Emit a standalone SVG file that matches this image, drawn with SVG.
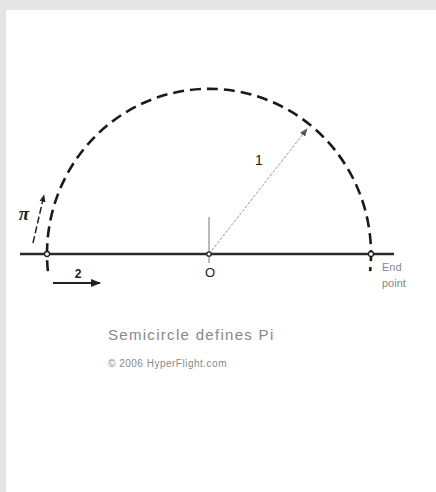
<svg xmlns="http://www.w3.org/2000/svg" width="436" height="492" viewBox="0 0 436 492">
<defs>
<style>
.base{stroke:#2a2a2a;stroke-width:2.5;fill:none}
.arc{stroke:#1a1a1a;stroke-width:2.6;fill:none;stroke-dasharray:11 6}
.pt{fill:#fff;stroke:#222;stroke-width:1.3}
.lbl{font-family:"Liberation Sans",Arial,sans-serif;fill:#222}
.cap{font-family:"Liberation Sans",Arial,sans-serif;fill:#888}
</style>
<marker id="ah" viewBox="0 0 10 10" refX="9" refY="5" markerWidth="5" markerHeight="5" orient="auto" markerUnits="strokeWidth"><path d="M0,1 L10,5 L0,9 z" fill="#222"/></marker>
<marker id="ahg" viewBox="0 0 10 10" refX="9" refY="5" markerWidth="8" markerHeight="8" orient="auto" markerUnits="strokeWidth"><path d="M0,1 L10,5 L0,9 z" fill="#555"/></marker>
</defs>
<rect x="0" y="0" width="436" height="492" fill="#e5e5e5"/>
<rect x="6" y="10" width="430" height="482" fill="#fff"/>
<g id="semicircle">
<path class="arc" d="M47.9 271.2 A162 165 0 1 1 370.1 271.2"/>
</g>
<g id="baseline">
<line class="base" x1="20" y1="254" x2="394" y2="254"/>
<line x1="209" y1="217" x2="209" y2="263" stroke="#777" stroke-width="1"/>
</g>
<g id="connectors">
<line x1="209" y1="254" x2="307" y2="129" stroke="#999" stroke-width="1" stroke-dasharray="3 1.5" marker-end="url(#ahg)"/>
<line x1="33" y1="243" x2="44" y2="195" stroke="#222" stroke-width="1.5" stroke-dasharray="7 3" marker-end="url(#ah)"/>
<line x1="53" y1="283" x2="100" y2="283" stroke="#222" stroke-width="2" marker-end="url(#ah)"/>
</g>
<g id="points">
<circle class="pt" cx="47" cy="254" r="2.5"/>
<circle class="pt" cx="209" cy="254" r="2.2"/>
<circle class="pt" cx="371" cy="254" r="2.5"/>
</g>
<g id="labels">
<text class="lbl" x="259" y="165" font-size="14" text-anchor="middle">1</text>
<text x="24" y="220" font-family="'Liberation Serif',serif" font-size="19" font-weight="bold" font-style="italic" fill="#222" text-anchor="middle">π</text>
<text class="lbl" x="78" y="278" font-size="12" font-weight="bold" text-anchor="middle">2</text>
<text class="lbl" x="210" y="277" font-size="13" text-anchor="middle">O</text>
<text class="cap" x="382" y="271" font-size="11">End</text>
<text class="cap" x="382" y="287" font-size="11">point</text>
<text class="cap" x="108" y="340" font-size="15" letter-spacing="1.3">Semicircle defines Pi</text>
<text class="cap" x="108" y="367" font-size="10" letter-spacing="0.5">© 2006 HyperFlight.com</text>
</g>
</svg>
